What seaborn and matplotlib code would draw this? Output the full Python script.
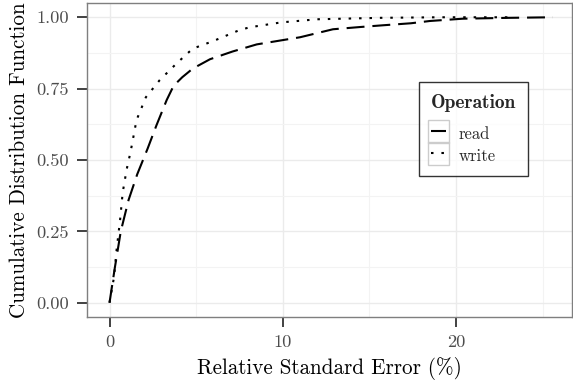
import matplotlib
matplotlib.use("Agg")
import matplotlib.pyplot as plt
import seaborn as sns
import pandas as pd
from matplotlib.lines import Line2D
from matplotlib.patches import Rectangle
from matplotlib.transforms import IdentityTransform
from matplotlib.font_manager import FontProperties
from matplotlib.ticker import MultipleLocator

# ---- data ----
read_x = [0, 0.3, 0.65, 1.1, 1.6, 2.2, 2.7, 3.3, 3.7, 4.2, 4.8, 5.8, 7.1, 8.5,
          10.0, 11.0, 12.9, 14.5, 15.8, 17.4, 18.5, 20.4, 23.0, 25.6]
read_y = [0, 0.12, 0.25, 0.36, 0.45, 0.54, 0.62, 0.71, 0.76, 0.79, 0.82, 0.853,
          0.88, 0.905, 0.92, 0.93, 0.958, 0.966, 0.972, 0.979, 0.987, 0.995, 0.998, 1.0]
write_x = [0, 0.26, 0.41, 0.61, 0.76, 0.99, 1.22, 1.56, 2.1, 2.9, 3.9, 4.8, 6.0,
           7.5, 8.1, 9.9, 12.0, 15.6, 19.0, 23.0]
write_y = [0, 0.09, 0.186, 0.29, 0.386, 0.467, 0.53, 0.64, 0.72, 0.78, 0.84, 0.89,
           0.917, 0.955, 0.965, 0.982, 0.993, 0.998, 1.0, 1.0]
operations = ["read", "write"]
x_ticks = [0, 10, 20]
y_ticks = [0.00, 0.25, 0.50, 0.75, 1.00]
y_tick_labels = ["0.00", "0.25", "0.50", "0.75", "1.00"]

df = pd.concat([
    pd.DataFrame({"x": read_x, "y": read_y, "Operation": operations[0]}),
    pd.DataFrame({"x": write_x, "y": write_y, "Operation": operations[1]}),
], ignore_index=True)

sns.set_theme(style="white")
plt.rcParams["font.family"] = ["cmr10", "DejaVu Serif"]
plt.rcParams["mathtext.fontset"] = "cm"
plt.rcParams["axes.formatter.use_mathtext"] = True
plt.rcParams["axes.unicode_minus"] = False

W, H = 573, 388
fig = plt.figure(figsize=(W / 100, H / 100), dpi=100)
ax = fig.add_axes([87 / W, 1 - 317 / H, (572 - 87) / W, (317 - 3) / H])

lw = 1.5
dash_map = {"read": (8.6, 3.8), "write": (1.2, 3.8)}
sns.lineplot(data=df, x="x", y="y", hue="Operation", style="Operation",
             palette={"read": "black", "write": "black"}, dashes=dash_map,
             sort=False, estimator=None, linewidth=lw, ax=ax, legend=False)

ax.set_xlim(-1.3, 26.7)
ax.set_ylim(-0.05, 1.05)
ax.set_xticks(x_ticks)
ax.set_xticklabels([str(t) for t in x_ticks])
ax.set_yticks(y_ticks)
ax.set_yticklabels(y_tick_labels)
ax.xaxis.set_minor_locator(MultipleLocator(5))
ax.yaxis.set_minor_locator(MultipleLocator(0.125))

ax.grid(True, which="major", color="#EBEBEB", linewidth=1.0)
ax.grid(True, which="minor", color="#F3F3F3", linewidth=0.8)
ax.set_axisbelow(True)
for s in ax.spines.values():
    s.set_color("#7F7F7F")
    s.set_linewidth(1.0)

ax.tick_params(axis="both", which="major", direction="out", length=7.5, width=1.3,
               color="#333333", labelsize=13.2, labelcolor="#4D4D4D",
               bottom=True, left=True)
ax.tick_params(axis="y", which="major", pad=5.5)
ax.tick_params(axis="x", which="major", pad=5.0)
ax.tick_params(axis="both", which="minor", length=0)

ax.set_xlabel("Relative Standard Error (%)", fontsize=15.2, color="black", labelpad=5)
ax.set_ylabel("Cumulative Distribution Function", fontsize=15.2, color="black", labelpad=5)

handles = [Line2D([], [], color="black", linewidth=lw, dashes=dash_map[o]) for o in operations]
leg = ax.legend(handles, operations, title="Operation", loc="upper left",
                bbox_to_anchor=(0.6845, 0.748), borderaxespad=0, frameon=True,
                fancybox=False, edgecolor="black", fontsize=12,
                title_fontproperties=FontProperties(family="cmb10", size=14),
                handlelength=0.95, handleheight=1.35, handletextpad=0.75,
                labelspacing=0.21, borderpad=0.7)
leg.get_frame().set_linewidth(1.0)
leg._legend_box.align = "left"
leg._legend_box.sep = 8.5

# grey key boxes around legend keys (as in the reference theme)
fig.canvas.draw()
for ln in leg.get_lines():
    bb = ln.get_window_extent(fig.canvas.get_renderer())
    cx = (bb.x0 + bb.x1) / 2
    cy = (bb.y0 + bb.y1) / 2
    fig.add_artist(Rectangle((cx - 10.5, cy - 11.5), 21, 23, fill=False,
                             edgecolor="#CCCCCC", linewidth=1.0,
                             transform=IdentityTransform(), zorder=10))

fig.savefig("out.png", dpi=100)
